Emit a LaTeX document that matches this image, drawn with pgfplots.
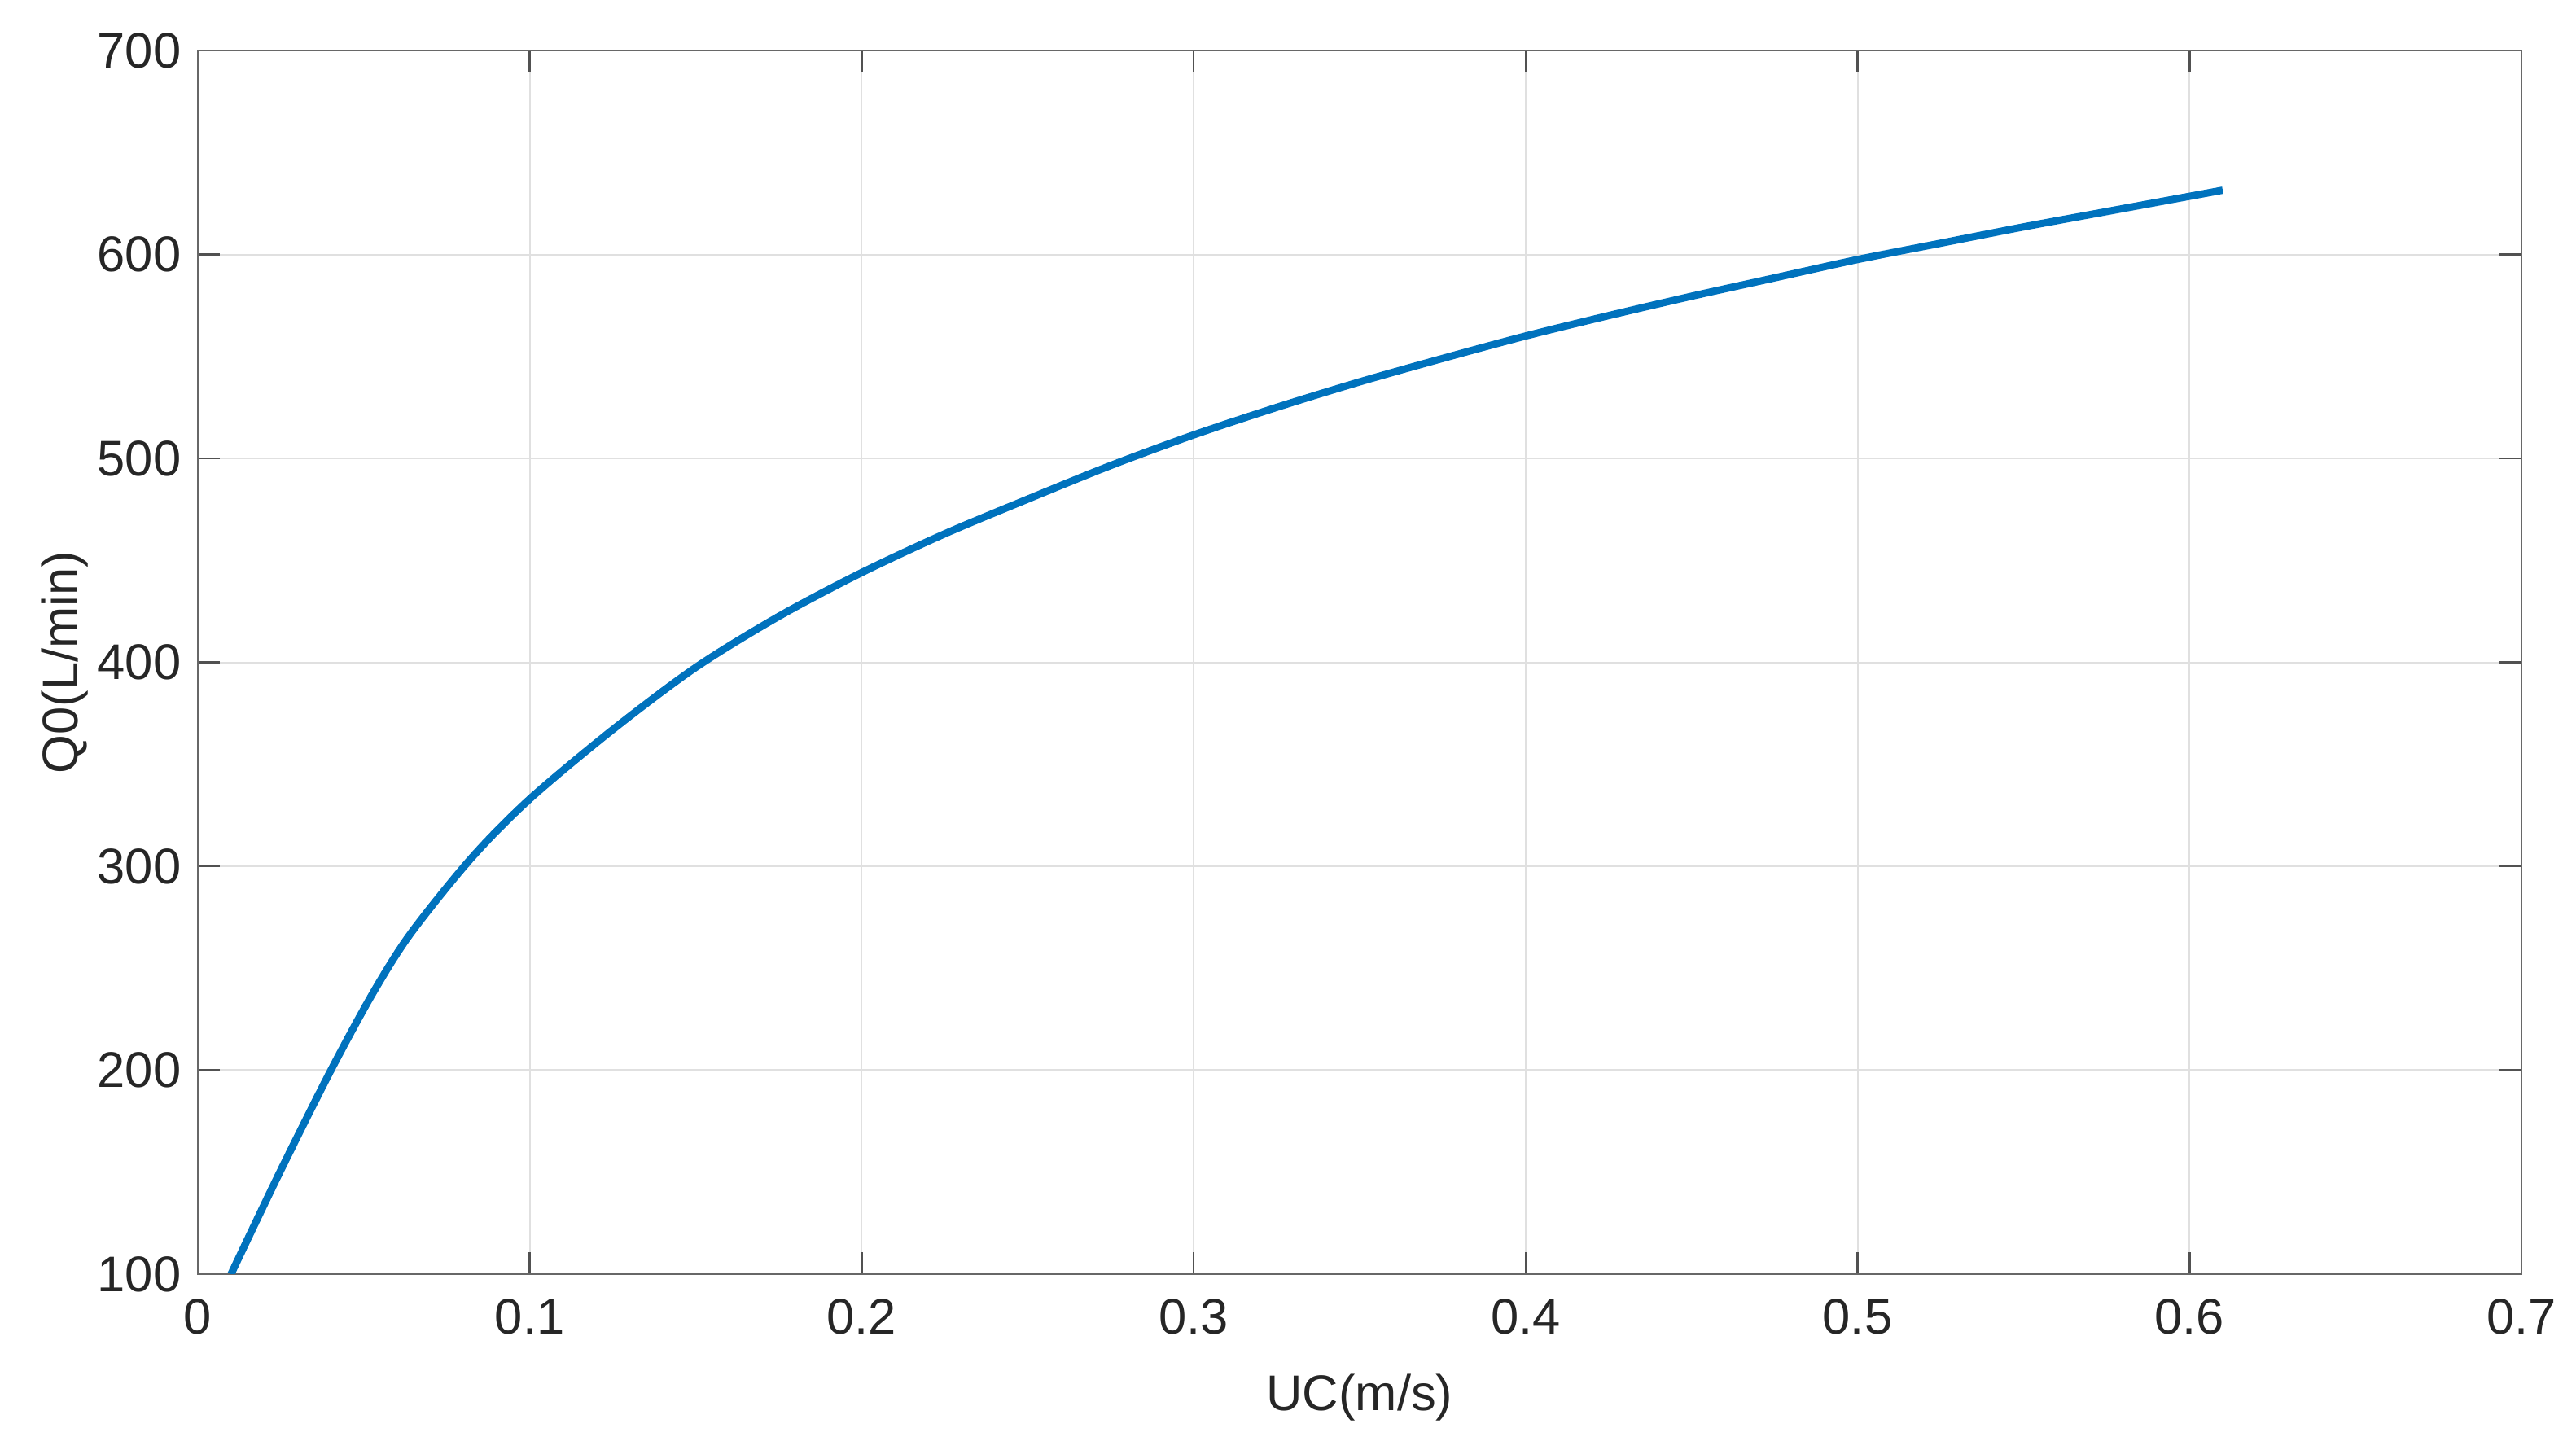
\documentclass[border=0pt]{standalone}
\usepackage{pgfplots}
\pgfplotsset{compat=1.18}
\usepackage{fontspec}
\setmainfont{Liberation Sans}
\definecolor{mblue}{RGB}{0,114,189}
\definecolor{axgray}{RGB}{38,38,38}
\begin{document}
\begin{tikzpicture}
\useasboundingbox (-48.6pt,-43.2pt) rectangle (584.2pt,313.0pt);
\begin{axis}[
  at={(0,0)}, anchor=south west,
  scale only axis,
  width=570.8pt, height=300.6pt,
  xmin=0, xmax=0.7, ymin=100, ymax=700,
  xtick={0,0.1,0.2,0.3,0.4,0.5,0.6,0.7},
  xticklabels={0,0.1,0.2,0.3,0.4,0.5,0.6,0.7},
  ytick={100,200,300,400,500,600,700},
  yticklabels={100,200,300,400,500,600,700},
  tick align=inside,
  major tick length=5.4pt,
  xtick pos=both, ytick pos=both,
  axis line style={draw=axgray!70, line width=0.5pt},
  tick style={draw=axgray!80, line width=0.5pt},
  grid=major,
  major grid style={draw=black!12, line width=0.4pt},
  ticklabel style={font=\fontsize{12.3}{14}\selectfont, text=axgray},
  /pgf/number format/assume math mode=true,
  xticklabel style={yshift=-2.5pt},
  yticklabel style={xshift=-0.6pt},
  xlabel={UC(m/s)},
  ylabel={Q0(L/min)},
  label style={font=\fontsize{12.3}{14}\selectfont, text=axgray},
  xlabel style={at={(axis description cs:0.5,-0.101)}, anchor=center},
  ylabel style={at={(axis description cs:-0.0571,0.5)}, anchor=center},
]
\addplot[mblue, line width=1.8pt, smooth, tension=0.5] coordinates {
(0.010,100) (0.0247,150) (0.0401,200) (0.0528,238) (0.0641,267)
(0.0824,304) (0.100,333) (0.125,367) (0.150,397.5) (0.175,422.5)
(0.200,444) (0.225,463) (0.250,480) (0.275,496.5) (0.300,511.5)
(0.325,525) (0.350,537.5) (0.375,549) (0.400,560) (0.425,570)
(0.450,579.5) (0.475,588.5) (0.500,597.5) (0.525,605.5) (0.550,613.5)
(0.575,621) (0.600,628.5) (0.610,631.5)
};
\end{axis}
\end{tikzpicture}
\end{document}
